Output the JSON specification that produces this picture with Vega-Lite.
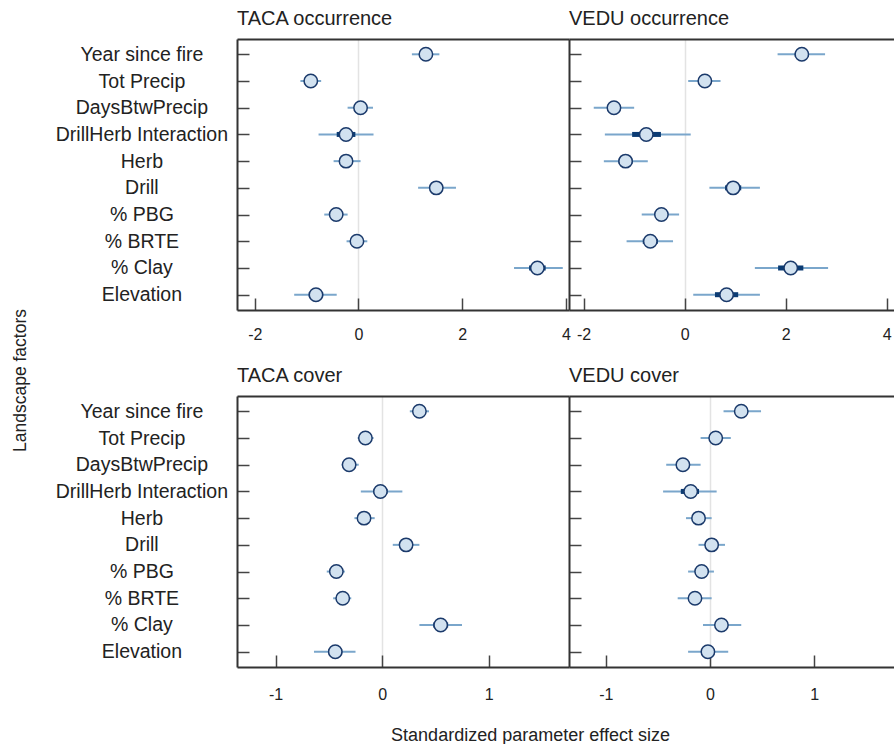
{
  "$schema": "https://vega.github.io/schema/vega-lite/v6.json",
  "background": "white",
  "padding": {"left": 11, "top": 9, "right": 0, "bottom": 0},
  "autosize": {"type": "pad"},
  "datasets": {
    "d": [
      {"panel": "TACA occurrence", "factor": "Year since fire", "est": 1.30, "lo": 1.03, "hi": 1.56, "ilo": 1.21, "ihi": 1.39},
      {"panel": "TACA occurrence", "factor": "Tot Precip", "est": -0.92, "lo": -1.12, "hi": -0.72, "ilo": -0.99, "ihi": -0.85},
      {"panel": "TACA occurrence", "factor": "DaysBtwPrecip", "est": 0.04, "lo": -0.21, "hi": 0.28, "ilo": -0.045, "ihi": 0.125},
      {"panel": "TACA occurrence", "factor": "DrillHerb Interaction", "est": -0.24, "lo": -0.77, "hi": 0.29, "ilo": -0.42, "ihi": -0.06},
      {"panel": "TACA occurrence", "factor": "Herb", "est": -0.24, "lo": -0.48, "hi": 0.04, "ilo": -0.33, "ihi": -0.15},
      {"panel": "TACA occurrence", "factor": "Drill", "est": 1.50, "lo": 1.15, "hi": 1.88, "ilo": 1.375, "ihi": 1.625},
      {"panel": "TACA occurrence", "factor": "% PBG", "est": -0.43, "lo": -0.66, "hi": -0.21, "ilo": -0.51, "ihi": -0.35},
      {"panel": "TACA occurrence", "factor": "% BRTE", "est": -0.03, "lo": -0.23, "hi": 0.17, "ilo": -0.10, "ihi": 0.04},
      {"panel": "TACA occurrence", "factor": "% Clay", "est": 3.45, "lo": 3.00, "hi": 3.94, "ilo": 3.29, "ihi": 3.61},
      {"panel": "TACA occurrence", "factor": "Elevation", "est": -0.82, "lo": -1.24, "hi": -0.42, "ilo": -0.96, "ihi": -0.68},
      {"panel": "VEDU occurrence", "factor": "Year since fire", "est": 2.32, "lo": 1.84, "hi": 2.78, "ilo": 2.18, "ihi": 2.46},
      {"panel": "VEDU occurrence", "factor": "Tot Precip", "est": 0.40, "lo": 0.07, "hi": 0.71, "ilo": 0.29, "ihi": 0.51},
      {"panel": "VEDU occurrence", "factor": "DaysBtwPrecip", "est": -1.40, "lo": -1.80, "hi": -1.00, "ilo": -1.53, "ihi": -1.27},
      {"panel": "VEDU occurrence", "factor": "DrillHerb Interaction", "est": -0.76, "lo": -1.58, "hi": 0.12, "ilo": -1.04, "ihi": -0.47},
      {"panel": "VEDU occurrence", "factor": "Herb", "est": -1.17, "lo": -1.60, "hi": -0.73, "ilo": -1.31, "ihi": -1.03},
      {"panel": "VEDU occurrence", "factor": "Drill", "est": 0.96, "lo": 0.49, "hi": 1.49, "ilo": 0.80, "ihi": 1.12},
      {"panel": "VEDU occurrence", "factor": "% PBG", "est": -0.46, "lo": -0.85, "hi": -0.11, "ilo": -0.58, "ihi": -0.34},
      {"panel": "VEDU occurrence", "factor": "% BRTE", "est": -0.68, "lo": -1.15, "hi": -0.23, "ilo": -0.83, "ihi": -0.53},
      {"panel": "VEDU occurrence", "factor": "% Clay", "est": 2.10, "lo": 1.39, "hi": 2.84, "ilo": 1.85, "ihi": 2.35},
      {"panel": "VEDU occurrence", "factor": "Elevation", "est": 0.83, "lo": 0.17, "hi": 1.49, "ilo": 0.60, "ihi": 1.06},
      {"panel": "TACA cover", "factor": "Year since fire", "est": 0.35, "lo": 0.26, "hi": 0.44, "ilo": 0.32, "ihi": 0.38},
      {"panel": "TACA cover", "factor": "Tot Precip", "est": -0.157, "lo": -0.23, "hi": -0.08, "ilo": -0.18, "ihi": -0.13},
      {"panel": "TACA cover", "factor": "DaysBtwPrecip", "est": -0.31, "lo": -0.38, "hi": -0.22, "ilo": -0.34, "ihi": -0.28},
      {"panel": "TACA cover", "factor": "DrillHerb Interaction", "est": -0.016, "lo": -0.20, "hi": 0.19, "ilo": -0.08, "ihi": 0.05},
      {"panel": "TACA cover", "factor": "Herb", "est": -0.17, "lo": -0.26, "hi": -0.07, "ilo": -0.20, "ihi": -0.14},
      {"panel": "TACA cover", "factor": "Drill", "est": 0.225, "lo": 0.10, "hi": 0.35, "ilo": 0.185, "ihi": 0.265},
      {"panel": "TACA cover", "factor": "% PBG", "est": -0.43, "lo": -0.52, "hi": -0.35, "ilo": -0.46, "ihi": -0.40},
      {"panel": "TACA cover", "factor": "% BRTE", "est": -0.37, "lo": -0.46, "hi": -0.29, "ilo": -0.40, "ihi": -0.34},
      {"panel": "TACA cover", "factor": "% Clay", "est": 0.55, "lo": 0.35, "hi": 0.75, "ilo": 0.48, "ihi": 0.62},
      {"panel": "TACA cover", "factor": "Elevation", "est": -0.44, "lo": -0.64, "hi": -0.25, "ilo": -0.505, "ihi": -0.375},
      {"panel": "VEDU cover", "factor": "Year since fire", "est": 0.30, "lo": 0.13, "hi": 0.49, "ilo": 0.24, "ihi": 0.36},
      {"panel": "VEDU cover", "factor": "Tot Precip", "est": 0.055, "lo": -0.09, "hi": 0.20, "ilo": 0.005, "ihi": 0.105},
      {"panel": "VEDU cover", "factor": "DaysBtwPrecip", "est": -0.26, "lo": -0.42, "hi": -0.09, "ilo": -0.315, "ihi": -0.205},
      {"panel": "VEDU cover", "factor": "DrillHerb Interaction", "est": -0.185, "lo": -0.45, "hi": 0.064, "ilo": -0.28, "ihi": -0.105},
      {"panel": "VEDU cover", "factor": "Herb", "est": -0.11, "lo": -0.23, "hi": 0.016, "ilo": -0.15, "ihi": -0.07},
      {"panel": "VEDU cover", "factor": "Drill", "est": 0.016, "lo": -0.11, "hi": 0.144, "ilo": -0.03, "ihi": 0.06},
      {"panel": "VEDU cover", "factor": "% PBG", "est": -0.08, "lo": -0.21, "hi": 0.038, "ilo": -0.12, "ihi": -0.04},
      {"panel": "VEDU cover", "factor": "% BRTE", "est": -0.144, "lo": -0.31, "hi": 0.016, "ilo": -0.20, "ihi": -0.09},
      {"panel": "VEDU cover", "factor": "% Clay", "est": 0.11, "lo": -0.067, "hi": 0.30, "ilo": 0.05, "ihi": 0.17},
      {"panel": "VEDU cover", "factor": "Elevation", "est": -0.02, "lo": -0.21, "hi": 0.175, "ilo": -0.085, "ihi": 0.045}
    ]
  },
  "columns": 2,
  "spacing": {"row": 86, "column": 0},
  "bounds": "flush",
  "concat": [
    {
      "title": "TACA occurrence",
      "width": 332, "height": 271,
      "data": {"name": "d"},
      "transform": [{"filter": "datum.panel === 'TACA occurrence'"}],
      "encoding": {
        "y": {"field": "factor", "type": "nominal",
          "sort": ["Year since fire","Tot Precip","DaysBtwPrecip","DrillHerb Interaction","Herb","Drill","% PBG","% BRTE","% Clay","Elevation"],
          "scale": {"type": "point", "padding": 0.573},
          "axis": {"orient": "left", "labelAlign": "center", "labelBaseline": "middle", "labelPadding": 107.6, "labelFontSize": 19.5,
            "title": "Landscape factors", "titleX": -217, "titleY": 341, "titleAngle": -90, "titleAlign": "center", "titleBaseline": "middle", "titleFontSize": 17.5}}
      },
      "layer": [
        {"mark": {"type": "rule", "color": "#7aa6cb", "strokeWidth": 2},
          "encoding": {"x": {"field": "lo", "type": "quantitative", "scale": {"domain": [-2.343, 4.06], "nice": false, "zero": false},
            "axis": {"orient": "top", "values": [0], "grid": true, "gridColor": "#e3e3e3", "gridWidth": 1.5, "ticks": false, "labels": false, "domain": true, "title": null}},
            "x2": {"field": "hi"}}},
        {"mark": {"type": "rule", "color": "#0b3b73", "strokeWidth": 5},
          "encoding": {"x": {"field": "ilo", "type": "quantitative", "scale": {"domain": [-2.343, 4.06], "nice": false, "zero": false}, "axis": null},
            "x2": {"field": "ihi"}}},
        {"mark": {"type": "circle", "fill": "#d2e2f0", "stroke": "#1b3a6b", "strokeWidth": 1.5, "size": 180, "opacity": 1},
          "encoding": {"x": {"field": "est", "type": "quantitative", "scale": {"domain": [-2.343, 4.06], "nice": false, "zero": false},
            "axis": {"orient": "bottom", "values": [-2, 0, 2, 4], "labelExpr": "'' + datum.value", "labelPadding": 28.5, "title": null}}}}
      ],
      "resolve": {"axis": {"x": "independent"}}
    },
    {
      "title": "VEDU occurrence",
      "width": 325, "height": 271,
      "data": {"name": "d"},
      "transform": [{"filter": "datum.panel === 'VEDU occurrence'"}],
      "encoding": {
        "y": {"field": "factor", "type": "nominal",
          "sort": ["Year since fire","Tot Precip","DaysBtwPrecip","DrillHerb Interaction","Herb","Drill","% PBG","% BRTE","% Clay","Elevation"],
          "scale": {"type": "point", "padding": 0.573},
          "axis": {"orient": "left", "labels": false, "title": null}}
      },
      "layer": [
        {"mark": {"type": "rule", "color": "#7aa6cb", "strokeWidth": 2},
          "encoding": {"x": {"field": "lo", "type": "quantitative", "scale": {"domain": [-2.29, 4.145], "nice": false, "zero": false},
            "axis": {"orient": "top", "values": [0], "grid": true, "gridColor": "#e3e3e3", "gridWidth": 1.5, "ticks": false, "labels": false, "domain": true, "title": null}},
            "x2": {"field": "hi"}}},
        {"mark": {"type": "rule", "color": "#0b3b73", "strokeWidth": 5},
          "encoding": {"x": {"field": "ilo", "type": "quantitative", "scale": {"domain": [-2.29, 4.145], "nice": false, "zero": false}, "axis": null},
            "x2": {"field": "ihi"}}},
        {"mark": {"type": "circle", "fill": "#d2e2f0", "stroke": "#1b3a6b", "strokeWidth": 1.5, "size": 180, "opacity": 1},
          "encoding": {"x": {"field": "est", "type": "quantitative", "scale": {"domain": [-2.29, 4.145], "nice": false, "zero": false},
            "axis": {"orient": "bottom", "values": [-2, 0, 2, 4], "labelExpr": "'' + datum.value", "labelPadding": 28.5, "title": null}}}}
      ],
      "resolve": {"axis": {"x": "independent"}}
    },
    {
      "title": "TACA cover",
      "width": 332, "height": 271,
      "data": {"name": "d"},
      "transform": [{"filter": "datum.panel === 'TACA cover'"}],
      "encoding": {
        "y": {"field": "factor", "type": "nominal",
          "sort": ["Year since fire","Tot Precip","DaysBtwPrecip","DrillHerb Interaction","Herb","Drill","% PBG","% BRTE","% Clay","Elevation"],
          "scale": {"type": "point", "padding": 0.573},
          "axis": {"orient": "left", "labelAlign": "center", "labelBaseline": "middle", "labelPadding": 107.6, "labelFontSize": 19.5, "title": null}}
      },
      "layer": [
        {"mark": {"type": "rule", "color": "#7aa6cb", "strokeWidth": 2},
          "encoding": {"x": {"field": "lo", "type": "quantitative", "scale": {"domain": [-1.363, 1.755], "nice": false, "zero": false},
            "axis": {"orient": "top", "values": [0], "grid": true, "gridColor": "#e3e3e3", "gridWidth": 1.5, "ticks": false, "labels": false, "domain": true, "title": null}},
            "x2": {"field": "hi"}}},
        {"mark": {"type": "rule", "color": "#0b3b73", "strokeWidth": 5},
          "encoding": {"x": {"field": "ilo", "type": "quantitative", "scale": {"domain": [-1.363, 1.755], "nice": false, "zero": false}, "axis": null},
            "x2": {"field": "ihi"}}},
        {"mark": {"type": "circle", "fill": "#d2e2f0", "stroke": "#1b3a6b", "strokeWidth": 1.5, "size": 180, "opacity": 1},
          "encoding": {"x": {"field": "est", "type": "quantitative", "scale": {"domain": [-1.363, 1.755], "nice": false, "zero": false},
            "axis": {"orient": "bottom", "values": [-1, 0, 1], "labelExpr": "'' + datum.value", "labelPadding": 31.5,
              "title": "Standardized parameter effect size", "titleX": 293, "titleY": 68, "titleAlign": "center", "titleBaseline": "middle", "titleFontSize": 18}}}}
      ],
      "resolve": {"axis": {"x": "independent"}}
    },
    {
      "title": "VEDU cover",
      "width": 325, "height": 271,
      "data": {"name": "d"},
      "transform": [{"filter": "datum.panel === 'VEDU cover'"}],
      "encoding": {
        "y": {"field": "factor", "type": "nominal",
          "sort": ["Year since fire","Tot Precip","DaysBtwPrecip","DrillHerb Interaction","Herb","Drill","% PBG","% BRTE","% Clay","Elevation"],
          "scale": {"type": "point", "padding": 0.573},
          "axis": {"orient": "left", "labels": false, "title": null}}
      },
      "layer": [
        {"mark": {"type": "rule", "color": "#7aa6cb", "strokeWidth": 2},
          "encoding": {"x": {"field": "lo", "type": "quantitative", "scale": {"domain": [-1.353, 1.766], "nice": false, "zero": false},
            "axis": {"orient": "top", "values": [0], "grid": true, "gridColor": "#e3e3e3", "gridWidth": 1.5, "ticks": false, "labels": false, "domain": true, "title": null}},
            "x2": {"field": "hi"}}},
        {"mark": {"type": "rule", "color": "#0b3b73", "strokeWidth": 5},
          "encoding": {"x": {"field": "ilo", "type": "quantitative", "scale": {"domain": [-1.353, 1.766], "nice": false, "zero": false}, "axis": null},
            "x2": {"field": "ihi"}}},
        {"mark": {"type": "circle", "fill": "#d2e2f0", "stroke": "#1b3a6b", "strokeWidth": 1.5, "size": 180, "opacity": 1},
          "encoding": {"x": {"field": "est", "type": "quantitative", "scale": {"domain": [-1.353, 1.766], "nice": false, "zero": false},
            "axis": {"orient": "bottom", "values": [-1, 0, 1], "labelExpr": "'' + datum.value", "labelPadding": 31.5, "title": null}}}}
      ],
      "resolve": {"axis": {"x": "independent"}}
    }
  ],
  "config": {
    "font": "Liberation Sans",
    "view": {"stroke": null},
    "axis": {"tickSize": -12, "tickColor": "#444", "tickWidth": 1.5, "domainColor": "#333", "domainWidth": 2, "labelFontSize": 16, "labelColor": "#222", "labelFlush": false, "labelOverlap": false, "grid": false, "titleColor": "#222", "titleFontWeight": "normal", "labelFont": "Liberation Sans", "titleFont": "Liberation Sans"},
    "title": {"anchor": "start", "frame": "group", "fontSize": 20, "fontWeight": "normal", "color": "#222", "offset": 10, "baseline": "alphabetic", "font": "Liberation Sans"}
  }
}
